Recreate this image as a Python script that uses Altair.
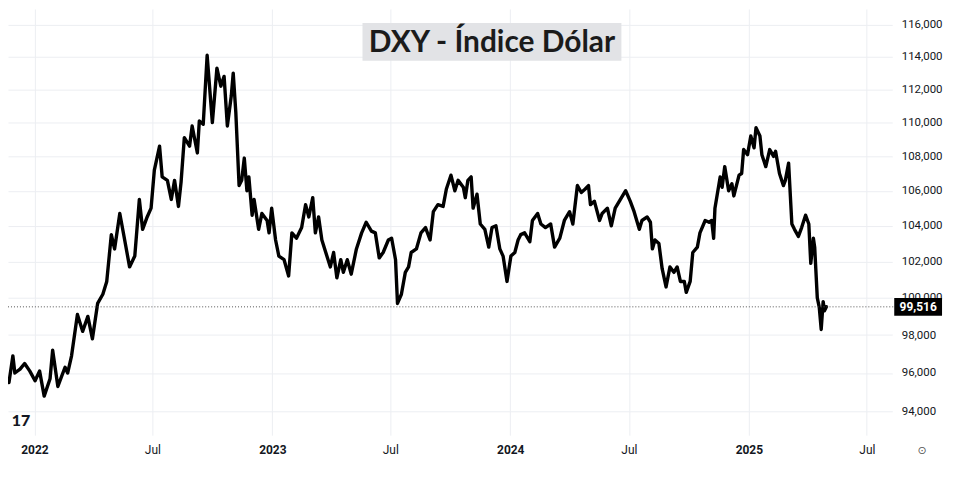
import altair as alt
import pandas as pd

# ---------------- data ----------------
base_date = "2022-01-01"          # day_offsets are days relative to this date
day_offsets = [
    -39, -33, -30, -22, -15, -7, 1, 8, 15, 24, 28, 36, 47, 51, 57, 66, 74, 82, 89, 97,
    105, 111, 118, 123, 131, 138, 146, 154, 161, 166, 173, 179, 184, 192, 196, 204, 210, 215, 221, 225,
    230, 238, 242, 250, 253, 259, 265, 273, 280, 286, 291, 296, 302, 305, 309, 314, 318, 322, 326, 329,
    334, 337, 344, 349, 357, 360, 364, 370, 375, 383, 390, 395, 402, 410, 416, 421, 427, 431, 436, 441,
    447, 454, 459, 464, 470, 474, 480, 486, 494, 502, 509, 517, 523, 529, 535, 543, 548, 554, 557, 563,
    569, 574, 578, 586, 593, 600, 607, 612, 619, 627, 632, 639, 645, 650, 658, 661, 665, 670, 673, 679,
    684, 691, 697, 702, 708, 714, 719, 725, 731, 737, 742, 746, 752, 760, 764, 772, 777, 784, 792, 798,
    806, 813, 821, 826, 833, 839, 845, 850, 853, 859, 867, 871, 879, 885, 891, 899, 907, 914, 920, 928,
    932, 940, 945, 948, 952, 958, 963, 969, 975, 981, 986, 991, 997, 1000, 1006, 1010, 1017, 1021, 1029, 1035,
    1039, 1042, 1044, 1052, 1055, 1059, 1065, 1070, 1073, 1081, 1085, 1088, 1094, 1099, 1104, 1107, 1113, 1116, 1122, 1128,
    1134, 1137, 1143, 1149, 1152, 1157, 1162, 1166, 1172, 1177, 1183, 1188, 1191, 1195, 1197, 1201, 1204, 1207, 1210, 1212,
    1215,
]
dxy_values = [
    95.5, 96.9, 96.0, 96.2, 96.5, 96.1, 95.6, 96.1, 94.8, 95.7, 97.2, 95.3, 96.3, 96.0, 96.9, 99.1, 98.2, 99.0, 97.8, 99.7,
    100.2, 100.9, 103.5, 102.7, 104.7, 103.3, 101.7, 102.3, 105.5, 103.8, 104.5, 105.0, 107.2, 108.6, 106.8, 106.6, 105.5, 106.6, 105.1, 106.5,
    109.1, 108.6, 109.8, 108.2, 110.1, 109.9, 114.1, 110.0, 113.3, 112.2, 112.8, 109.8, 111.6, 113.0, 110.6, 106.3, 106.6, 107.9, 106.0, 106.8,
    104.6, 105.5, 103.8, 104.7, 104.3, 103.6, 105.0, 103.2, 102.3, 102.1, 101.2, 103.6, 103.3, 103.9, 105.2, 104.5, 105.6, 103.6, 104.5, 103.2,
    102.5, 101.7, 102.5, 101.1, 102.1, 101.4, 102.1, 101.3, 102.7, 103.6, 104.2, 103.7, 103.6, 102.2, 102.5, 103.2, 103.3, 102.1, 99.7, 100.2,
    101.4, 101.7, 102.5, 102.7, 103.6, 103.9, 103.2, 104.8, 105.2, 105.1, 106.1, 106.9, 106.0, 106.6, 106.2, 105.6, 106.6, 106.8, 105.0, 105.8,
    104.1, 103.8, 102.8, 103.9, 104.0, 102.7, 102.3, 100.9, 102.3, 102.5, 103.2, 103.5, 103.6, 103.1, 104.3, 104.7, 104.1, 103.9, 104.1, 102.8,
    103.3, 104.3, 104.8, 104.1, 106.3, 105.9, 106.1, 106.3, 105.2, 105.4, 104.3, 104.7, 105.0, 104.0, 105.0, 105.5, 106.0, 105.4, 104.8, 103.8,
    104.3, 104.5, 104.2, 102.7, 103.2, 103.0, 101.6, 100.6, 101.7, 101.4, 101.7, 100.9, 100.9, 100.3, 100.9, 102.5, 102.8, 103.6, 104.3, 104.2,
    104.3, 103.3, 105.0, 106.8, 106.2, 107.4, 106.0, 106.4, 105.7, 106.9, 107.0, 108.4, 108.1, 109.2, 108.5, 109.7, 109.2, 108.1, 107.4, 108.4,
    108.0, 108.3, 107.0, 106.3, 106.6, 107.6, 104.1, 103.8, 103.4, 103.9, 104.6, 104.1, 101.9, 103.3, 102.8, 100.0, 99.5, 98.3, 99.8, 99.3,
    99.516,
]
last_price = 99.516
y_ticks = [94, 96, 98, 100, 102, 104, 106, 108, 110, 112, 114, 116]
x_tick_dates = [(2022, 1), (2022, 7), (2023, 1), (2023, 7), (2024, 1), (2024, 7), (2025, 1), (2025, 7)]
title_text = "DXY - Índice Dólar"

dates = pd.Timestamp(base_date) + pd.to_timedelta(day_offsets, unit="D")
df = pd.DataFrame({"date": dates, "value": dxy_values})
price_df = pd.DataFrame({"value": [last_price],
                         "label": [f"{last_price:.3f}".replace(".", ",")]})
one = pd.DataFrame({"k": [0]})

W, H = 888, 428
GRID = "#eceef2"
LABEL = "#131722"

x_scale = alt.Scale(domain=[alt.DateTime(year=2021, month=11, date=21, hours=12),
                            alt.DateTime(year=2025, month=8, date=9)])
y_scale = alt.Scale(type="log", domain=[92.81, 117.01], nice=False, zero=False)

x_axis = alt.Axis(
    values=[alt.DateTime(year=y, month=m, date=1) for y, m in x_tick_dates],
    labelExpr="month(datum.value) == 0 ? timeFormat(datum.value, '%Y') : 'Jul'",
    labelFontWeight={"condition": {"test": "month(datum.value) == 0", "value": "bold"}, "value": "normal"},
    ticks=False, domain=False, labelPadding=9, labelFontSize=12, labelFont="Roboto",
    labelColor=LABEL, gridColor=GRID, title=None,
)
y_axis = alt.Axis(
    orient="right", values=y_ticks,
    labelExpr="replace(format(datum.value, '.3f'), '.', ',')",
    ticks=False, domain=False, labelAlign="left", labelBaseline="middle",
    labelPadding=9, labelFontSize=11.5, labelFont="Roboto", labelColor=LABEL,
    gridColor=GRID, title=None,
)

Y = alt.Y("value:Q", scale=y_scale, axis=y_axis)

line = alt.Chart(df).mark_line(color="black", strokeWidth=3.4, strokeJoin="round",
                               strokeCap="round", clip=True).encode(
    x=alt.X("date:T", scale=x_scale, axis=x_axis),
    y=Y,
)

price_rule = alt.Chart(price_df).mark_rule(color="#555555", strokeDash=[1, 2], strokeWidth=1).encode(
    y=Y, x=alt.value(0), x2=alt.value(890),
)
price_box = alt.Chart(price_df).mark_point(
    shape="M-1,-0.375L1,-0.375L1,0.375L-1,0.375Z", size=2304, filled=True,
    color="black", opacity=1,
).encode(y=Y, x=alt.value(914))
price_text = alt.Chart(price_df).mark_text(
    color="white", fontWeight="bold", fontSize=12, font="Roboto", baseline="middle", align="center",
).encode(y=Y, x=alt.value(914), text="label:N")

title_box = alt.Chart(one).mark_rect(color="#e2e3e6").encode(
    x=alt.value(356), x2=alt.value(616), y=alt.value(14), y2=alt.value(52))
title = alt.Chart(one).mark_text(
    fontSize=30, fontWeight="bold", font="Lato", color="#1b1b1b", baseline="middle", align="center",
).encode(x=alt.value(486), y=alt.value(34), text=alt.value(title_text))

logo = alt.Chart(one).mark_text(
    fontSize=16, fontWeight=900, font="Lato", color="#131722", baseline="middle", align="center",
).encode(x=alt.value(13), y=alt.value(414), text=alt.value("17"))
gear = alt.Chart(one).mark_text(
    fontSize=11, font="DejaVu Sans", color="#555555", baseline="middle", align="center",
).encode(x=alt.value(918), y=alt.value(444), text=alt.value("⊙"))

chart = alt.layer(line, price_rule, title_box, title, logo, price_box, price_text, gear).properties(
    width=W, height=H,
    background="white",
    autosize=alt.AutoSizeParams(type="none"),
    padding={"left": 0, "top": 0, "right": 60, "bottom": 32},
).configure_view(stroke=None)

chart.save("out.html", embed_options={"renderer": "svg", "actions": False})
